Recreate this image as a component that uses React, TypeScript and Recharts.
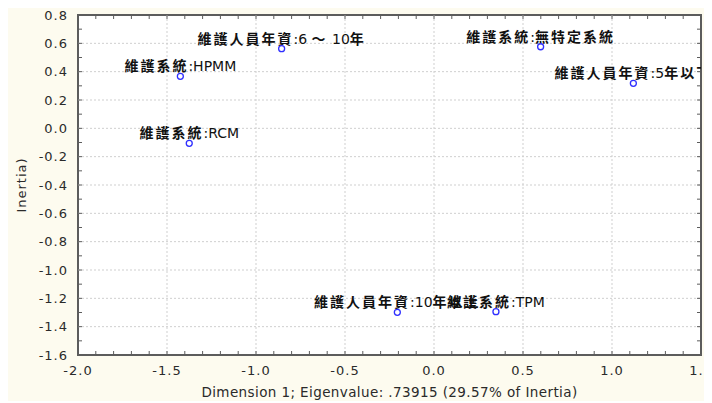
import { ScatterChart, Scatter, XAxis, YAxis, CartesianGrid } from 'recharts';

// category labels and coordinates on dimension 1 / dimension 2
const pointNames = [
  '維護人員年資:6 ～ 10年',
  '維護系統:HPMM',
  '維護系統:RCM',
  '維護系統:無特定系統',
  '維護人員年資:5年以下',
  '維護人員年資:10年以上',
  '維護系統:TPM',
];
const dim1 = [-0.856, -1.425, -1.375, 0.599, 1.12, -0.206, 0.348];
const dim2 = [0.562, 0.367, -0.106, 0.576, 0.318, -1.299, -1.294];

const xMajor = [-2.0, -1.5, -1.0, -0.5, 0.0, 0.5, 1.0, 1.5];
const xTicks = [
  -2.0, -1.9, -1.8, -1.7, -1.6, -1.5, -1.4, -1.3, -1.2, -1.1, -1.0, -0.9,
  -0.8, -0.7, -0.6, -0.5, -0.4, -0.3, -0.2, -0.1, 0.0, 0.1, 0.2, 0.3, 0.4,
  0.5, 0.6, 0.7, 0.8, 0.9, 1.0, 1.1, 1.2, 1.3, 1.4, 1.5,
];
const yMajor = [0.8, 0.6, 0.4, 0.2, 0.0, -0.2, -0.4, -0.6, -0.8, -1.0, -1.2, -1.4, -1.6];
const yTicks = [
  0.8, 0.7, 0.6, 0.5, 0.4, 0.3, 0.2, 0.1, 0.0, -0.1, -0.2, -0.3, -0.4, -0.5,
  -0.6, -0.7, -0.8, -0.9, -1.0, -1.1, -1.2, -1.3, -1.4, -1.5, -1.6,
];

const xTitle = 'Dimension 1; Eigenvalue: .73915 (29.57% of Inertia)';
const yTitle = 'Inertia)';

const data = pointNames.map((name, i) => ({ name, x: dim1[i], y: dim2[i] }));

const W = 704;
const H = 396;
const MARGIN = { top: 10, right: 11, bottom: 0, left: 10 };
const Y_AXIS_W = 60;
const X_AXIS_H = 46;
const PLOT = {
  left: MARGIN.left + Y_AXIS_W,
  top: MARGIN.top,
  width: W - MARGIN.left - Y_AXIS_W - MARGIN.right,
  height: H - MARGIN.top - X_AXIS_H - MARGIN.bottom,
};
const PLOT_RIGHT = PLOT.left + PLOT.width;

const FRAME = '#5c5c5c';
const TICK_FONT = '"DejaVu Sans", Verdana, sans-serif';
const CJK = /([\u2E80-\u9FFF\uFF00-\uFFEF]+)/;

const isMajor = (v: number, list: number[]) => list.some((m) => Math.abs(m - v) < 1e-6);
const fmt = (v: number) => (Math.abs(v) < 1e-9 ? '0.0' : v.toFixed(1));

// bottom ticks also mirror a tick mark on the top edge of the frame
function BottomTick({ x, y, payload }: any) {
  const major = isMajor(payload.value, xMajor);
  return (
    <g>
      <line x1={x} x2={x} y1={y} y2={y - 4} stroke={FRAME} />
      <line x1={x} x2={x} y1={PLOT.top} y2={PLOT.top + 4} stroke={FRAME} />
      {major && (
        <text x={x} y={y + 20} textAnchor="middle" style={tickText}>
          {fmt(payload.value)}
        </text>
      )}
    </g>
  );
}

// left ticks also mirror a tick mark on the right edge
function LeftTick({ x, y, payload }: any) {
  const major = isMajor(payload.value, yMajor);
  return (
    <g>
      <line x1={x} x2={x + 4} y1={y} y2={y} stroke={FRAME} />
      <line x1={PLOT_RIGHT} x2={PLOT_RIGHT - 4} y1={y} y2={y} stroke={FRAME} />
      {major && (
        <text x={x - 10} y={y} textAnchor="end" dominantBaseline="central" style={tickText}>
          {fmt(payload.value)}
        </text>
      )}
    </g>
  );
}

function PointWithLabel({ cx, cy, payload }: any) {
  const parts = String(payload.name).split(CJK).filter(Boolean);
  return (
    <g>
      <text x={cx} y={cy - 5} textAnchor="middle" fill="#111" fontSize={14}>
        {parts.map((p: string, i: number) =>
          CJK.test(p) ? (
            <tspan key={i} fontFamily='"Noto Sans CJK TC", sans-serif' fontWeight={700} letterSpacing={2}>
              {p}
            </tspan>
          ) : (
            <tspan key={i} fontFamily={TICK_FONT}>
              {p}
            </tspan>
          ),
        )}
      </text>
      <circle cx={cx} cy={cy} r={3} fill="#fff" stroke="#2f2fff" strokeWidth={1.3} />
    </g>
  );
}

export default function App() {
  return (
    <div style={{ position: 'relative', marginTop: -3, width: W, height: H, background: '#fdfbef' }}>
      {/* white plot panel with dark frame, behind the svg */}
      <div
        style={{
          position: 'absolute',
          left: PLOT.left - 1,
          top: PLOT.top - 1,
          width: PLOT.width + 2,
          height: PLOT.height + 2,
          boxSizing: 'border-box',
          border: `2px solid ${FRAME}`,
          background: '#ffffff',
        }}
      />
      <ScatterChart width={W} height={H} margin={MARGIN} style={{ position: 'relative' }}>
        <CartesianGrid
          stroke="#cfcfcf"
          strokeDasharray="2 2"
          horizontalValues={yMajor.slice(1, -1)}
          verticalValues={xMajor.slice(1, -1)}
        />
        <XAxis
          type="number"
          dataKey="x"
          domain={[-2, 1.5]}
          ticks={xTicks}
          interval={0}
          allowDataOverflow
          height={X_AXIS_H}
          tickSize={0}
          tickMargin={0}
          tickLine={false}
          tick={<BottomTick />}
          axisLine={false}
          label={{
            content: ({ viewBox }: any) => (
              <text
                x={viewBox.x + viewBox.width / 2}
                y={viewBox.y + 42}
                textAnchor="middle"
                style={{ ...tickText, fontSize: 13.5, letterSpacing: 0.4 }}
              >
                {xTitle}
              </text>
            ),
          }}
        />
        <YAxis
          type="number"
          dataKey="y"
          domain={[-1.6, 0.8]}
          ticks={yTicks}
          interval={0}
          width={Y_AXIS_W}
          tickSize={0}
          tickMargin={0}
          tickLine={false}
          tick={<LeftTick />}
          axisLine={false}
          label={{
            content: ({ viewBox }: any) => {
              const lx = viewBox.x + 3;
              const ly = viewBox.y + viewBox.height / 2;
              return (
                <text
                  x={lx}
                  y={ly}
                  textAnchor="middle"
                  dominantBaseline="central"
                  transform={`rotate(-90, ${lx}, ${ly})`}
                  style={{ ...tickText, fontSize: 13 }}
                >
                  {yTitle}
                </text>
              );
            },
          }}
        />
        <Scatter
          data={data}
          shape={<PointWithLabel />}
          isAnimationActive={false}
        />
      </ScatterChart>
    </div>
  );
}

const tickText: React.CSSProperties = {
  fontFamily: TICK_FONT,
  fontSize: 13,
  letterSpacing: 1,
  fill: '#2a2a2a',
};
